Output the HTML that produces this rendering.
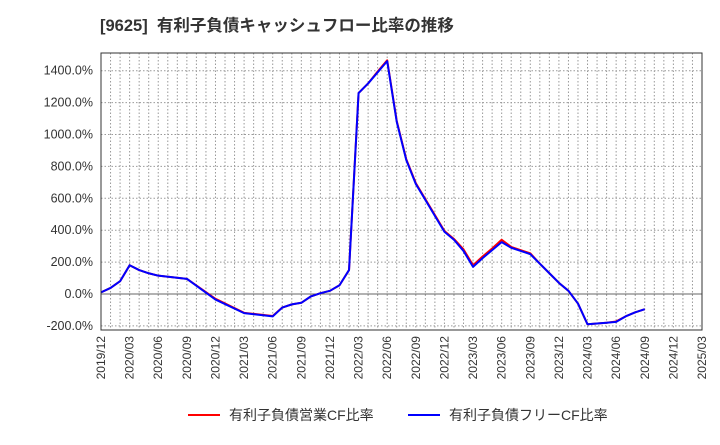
<!DOCTYPE html>
<html><head><meta charset="utf-8"><style>
body{margin:0;background:#fff;font-family:"Liberation Sans","Noto Sans CJK JP",sans-serif}
</style></head><body>
<svg width="720" height="440" xmlns="http://www.w3.org/2000/svg" id="c">
<text x="100" y="31" font-size="16.5" font-weight="bold" fill="#333" font-family="Liberation Sans, Noto Sans CJK JP, sans-serif" xml:space="preserve">[9625]  有利子負債キャッシュフロー比率の推移</text>
<g id="grid"></g><g id="series"></g><g id="axes"></g>
<g font-size="14" fill="#333">
<line x1="188" y1="415" x2="220" y2="415" stroke="red" stroke-width="2"/>
<text x="229" y="420">有利子負債営業CF比率</text>
<line x1="408" y1="415" x2="440" y2="415" stroke="blue" stroke-width="2"/>
<text x="449" y="420">有利子負債フリーCF比率</text>
</g>
</svg>
<script>
const months=[0,1,2,3,4,5,6,9,12,15,18,19,20,21,22,23,24,25,26,27,28,29,30,31,32,33,34,35,36,37,38,39,40,41,42,43,44,45,46,47,48,49,50,51,52,53,54,55,56,57];
const freeCF=[10,38,80,180,150,130,115,95,-35,-120,-140,-85,-65,-55,-15,5,20,55,150,1260,1320,1390,1460,1080,840,690,590,490,390,340,270,170,225,275,325,290,270,250,190,130,70,20,-60,-190,-185,-180,-175,-140,-115,-95];
const opCF=[10,38,80,180,150,130,115,95,-30,-118,-138,-85,-65,-55,-15,5,20,55,150,1260,1320,1395,1465,1085,845,695,595,495,395,345,280,180,235,285,340,295,275,255,190,130,70,20,-60,-190,-185,-180,-172,-140,-115,-95];
const yTicks=[-200,0,200,400,600,800,1000,1200,1400];
const xLabels=["2019/12","2020/03","2020/06","2020/09","2020/12","2021/03","2021/06","2021/09","2021/12","2022/03","2022/06","2022/09","2022/12","2023/03","2023/06","2023/09","2023/12","2024/03","2024/06","2024/09","2024/12","2025/03"];
const L=101,R=702,T=53,B=330,NM=63;
const X=m=>L+(R-L)*m/NM, Y=v=>294-v*0.1595;
const ns="http://www.w3.org/2000/svg";
function mk(t,a,p){const e=document.createElementNS(ns,t);for(const k in a)e.setAttribute(k,a[k]);p.appendChild(e);return e;}
const g=document.getElementById('grid'),ax=document.getElementById('axes'),s=document.getElementById('series');
for(let m=1;m<NM;m++){const l=mk('line',{x1:X(m),x2:X(m),y1:T,y2:B,stroke:'#999','stroke-dasharray':'1.5,2','stroke-width':1},g);

}
yTicks.forEach(v=>{const l=mk('line',{x1:L,x2:R,y1:Y(v),y2:Y(v),stroke:v===0?'#666':'#999','stroke-dasharray':v===0?'':'1.5,2','stroke-width':1},g);


const t=mk('text',{x:93,y:Y(v)+4,'text-anchor':'end','font-size':12.5,fill:'#333'},ax);t.textContent=v.toFixed(1)+'%';

});
xLabels.forEach((lb,i)=>{const x=X(i*3);const t=mk('text',{x:0,y:0,transform:`translate(${x+4},336) rotate(-90)`,'text-anchor':'end','font-size':12,fill:'#333'},ax);t.textContent=lb;

});
const fr=mk('rect',{x:L,y:T,width:R-L,height:B-T,fill:'none',stroke:'#333','stroke-width':1},ax);


function line(vals,col,name){const p=mk('polyline',{points:months.map((m,i)=>X(m)+','+Y(vals[i])).join(' '),fill:'none',stroke:col,'stroke-width':2,'stroke-linejoin':'round'},s);

}
line(opCF,'red','operating-cf-line');
line(freeCF,'blue','free-cf-line');
</script>
</body></html>
